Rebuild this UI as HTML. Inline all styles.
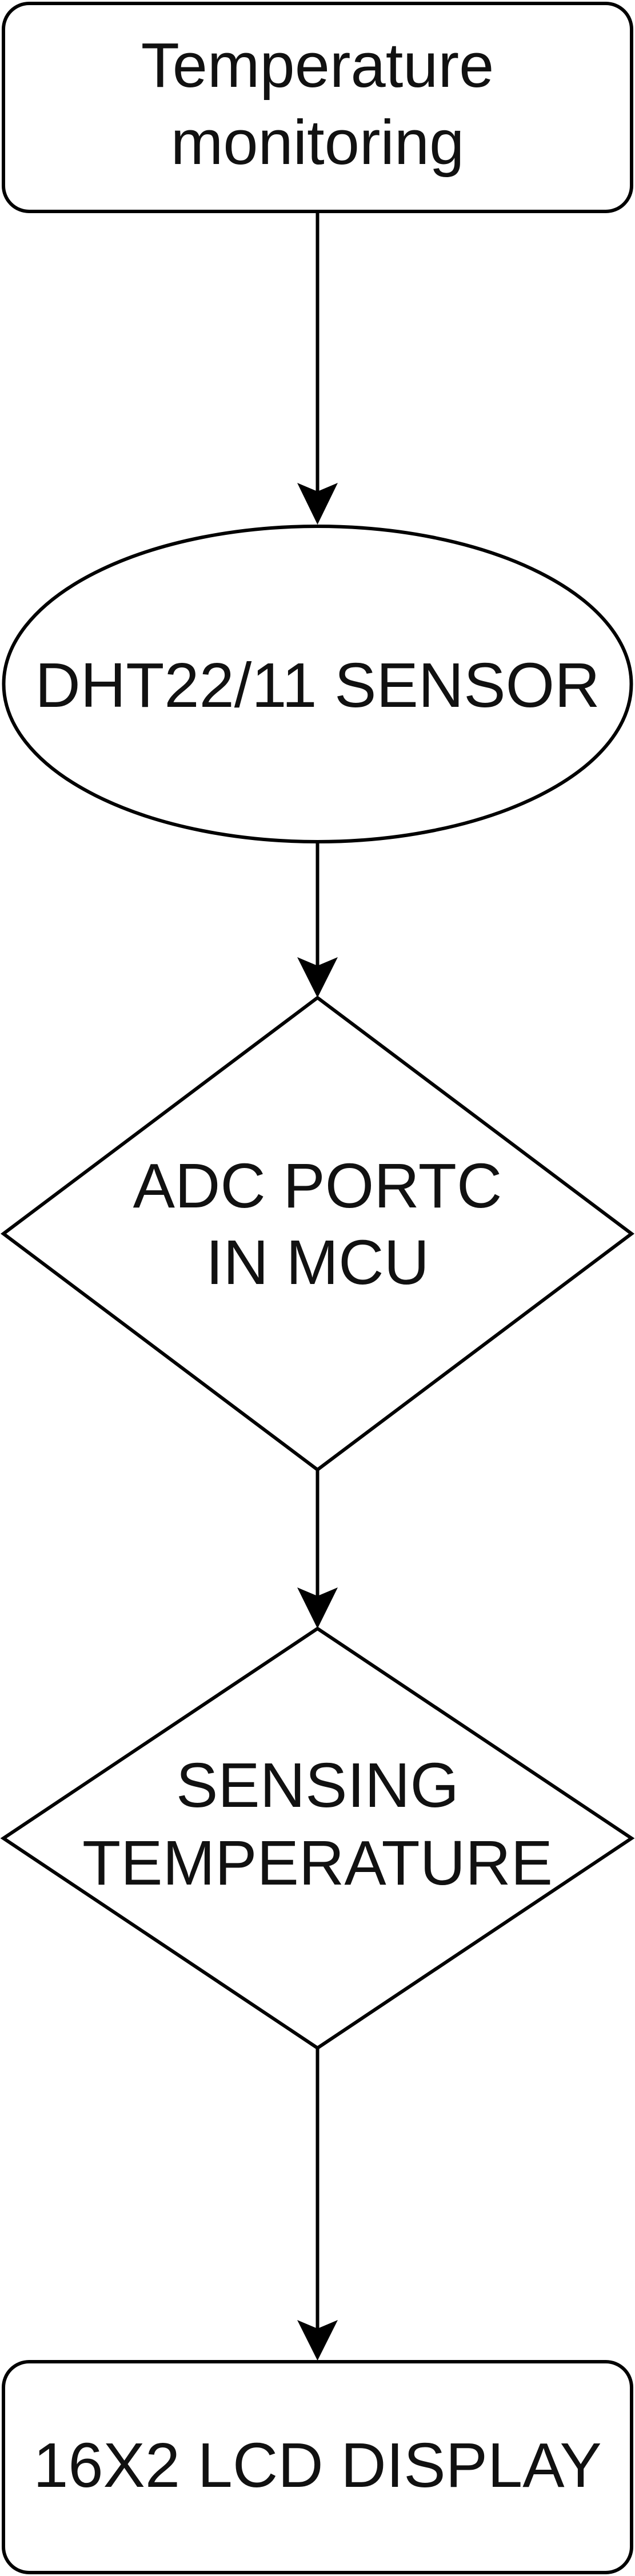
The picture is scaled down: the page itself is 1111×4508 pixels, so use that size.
<!DOCTYPE html>
<html><head><meta charset="utf-8"><style>
html,body{margin:0;padding:0;background:#fff;}
svg{display:block;}
text{font-family:"Liberation Sans",Arial,sans-serif;font-size:110px;fill:#111;text-anchor:middle;}
</style></head><body>
<svg width="1111" height="4508" viewBox="0 0 1111 4508" xmlns="http://www.w3.org/2000/svg">
<g fill="#fff" stroke="#000" stroke-width="6">
<rect x="6" y="6" width="1099" height="364" rx="45" ry="45"/>
<ellipse cx="555.5" cy="1197" rx="549" ry="276"/>
<polygon points="555.5,1746 1105,2159 555.5,2572 6,2159"/>
<polygon points="555.5,2850 1105,3217 555.5,3584 6,3217"/>
<rect x="6" y="4133" width="1099" height="369" rx="45" ry="45"/>
</g>
<g stroke="#000" stroke-width="6">
<line x1="555.5" y1="370" x2="555.5" y2="870"/>
<line x1="555.5" y1="1473" x2="555.5" y2="1700"/>
<line x1="555.5" y1="2572" x2="555.5" y2="2800"/>
<line x1="555.5" y1="3584" x2="555.5" y2="4080"/>
</g>
<g fill="#000">
<polygon points="520,845 555.5,860 591,845 555.5,918"/>
<polygon points="520,1675 555.5,1690 591,1675 555.5,1746"/>
<polygon points="520,2778 555.5,2793 591,2778 555.5,2850"/>
<polygon points="520,4060 555.5,4075 591,4060 555.5,4131"/>
</g>
<text x="555.5" y="152">Temperature</text>
<text x="555.5" y="287">monitoring</text>
<text x="555.5" y="1237">DHT22/11 SENSOR</text>
<text x="555.5" y="2113">ADC PORTC</text>
<text x="555.5" y="2247">IN MCU</text>
<text x="555.5" y="3162">SENSING</text>
<text x="555.5" y="3298">TEMPERATURE</text>
<text x="555.5" y="4352">16X2 LCD DISPLAY</text>
</svg>
</body></html>
